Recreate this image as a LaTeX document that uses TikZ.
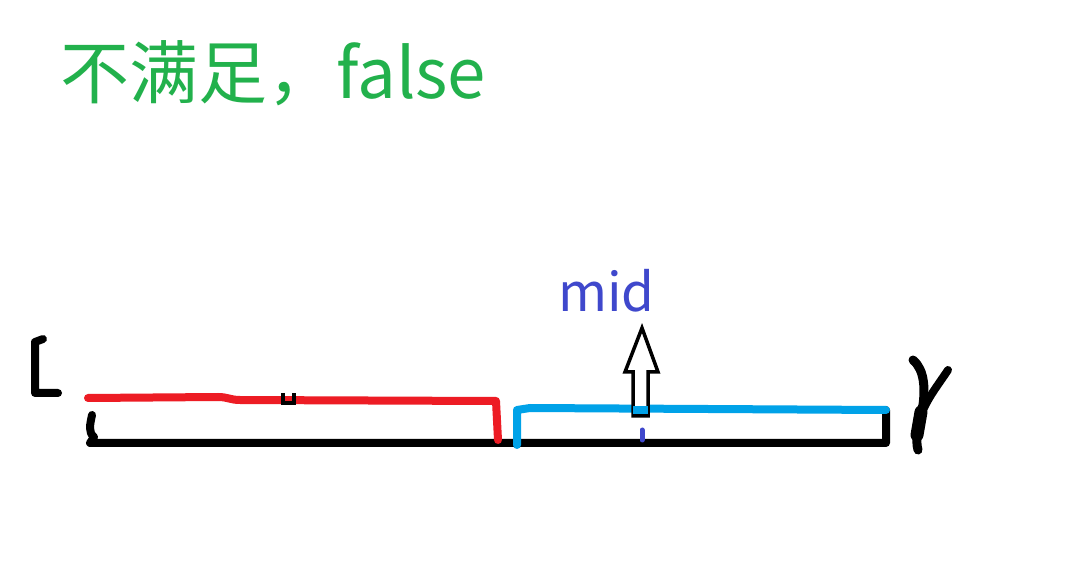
\documentclass[tikz,border=0pt]{standalone}
\usepackage{fontspec}
\newfontfamily\cjk{Noto Sans CJK SC}
\definecolor{tgreen}{HTML}{22B14C}
\definecolor{tred}{HTML}{ED1C24}
\definecolor{tblue}{HTML}{00A2E8}
\definecolor{tindigo}{HTML}{3F48CC}
\begin{document}
\begin{tikzpicture}[x=1pt,y=-1pt,
  pen/.style={line width=8pt,line cap=round,line join=round},
  lbl/.style={inner sep=0pt,anchor=base west}]
\useasboundingbox[fill=white] (0,0) rectangle (1080,561);
% title
\node[lbl,text=tgreen,font=\cjk\fontsize{69}{76}\selectfont] (title) at (60,99) {不满足，false};
% left bracket
\draw[pen,black] (43,339) -- (35,342) -- (35,393) -- (58,393);
% black base line
\draw[pen,black] (92,415) .. controls (90,425) and (88,432) .. (94,437) -- (90,443) -- (886,443) -- (886,410);
% red segment
\draw[pen,tred] (88,398) -- (218,397) .. controls (228,397) and (230,400) .. (240,400) -- (496,401) -- (498,440);
% small black mark on red
\draw[line width=4pt,black] (283,393) -- (283,403) -- (294,403) -- (294,393);
% blue segment
\draw[pen,tblue] (517,445) -- (517,410) -- (530,408) -- (886,410);
% mid tick
\draw[line width=5pt,tindigo,line cap=round] (642,430) -- (642,440);
% hollow arrow
\coordinate (tip) at (642,328);
\draw[line width=3.5pt,black,line join=miter,fill=white] (633,416) -- (633,372) -- (625,372) -- (tip) -- (658,372) -- (648,372) -- (648,416) -- cycle;
\draw[line width=8pt,tblue] (633,410) -- (648,410);
% mid label
\node[lbl,text=tindigo,font=\cjk\fontsize{53}{60}\selectfont] (mid) at (558,312) {mid};
% right r
\draw[line width=9pt,black,line cap=round,line join=round] (913,360) .. controls (925,370) and (925,390) .. (923,405) .. controls (918,420) and (915,440) .. (918,450);
\draw[line width=13pt,black,line cap=round] (921,412) -- (917,435);
\draw[line width=8pt,black,line cap=round] (948,370) .. controls (938,385) and (930,395) .. (924,408);
\end{tikzpicture}
\end{document}
